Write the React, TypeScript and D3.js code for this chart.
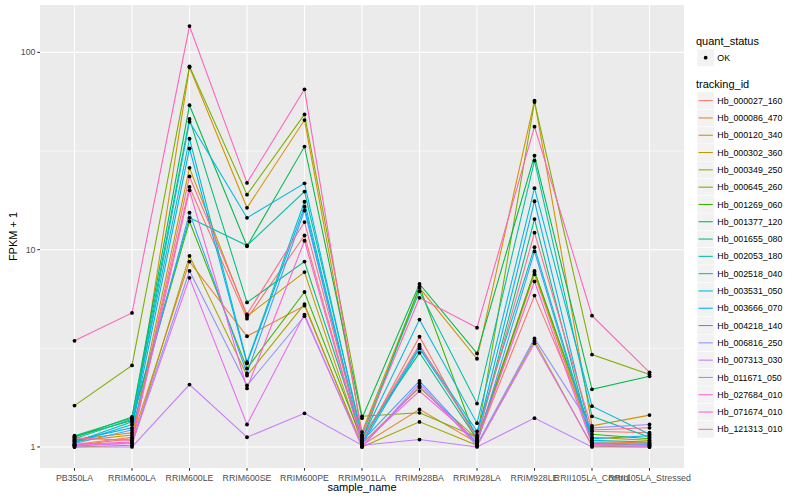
import React from "react";
import * as d3 from "d3";

const samples = [
  "PB350LA", "RRIM600LA", "RRIM600LE", "RRIM600SE", "RRIM600PE", "RRIM901LA",
  "RRIM928BA", "RRIM928LA", "RRIM928LE", "RRII105LA_Control", "RRII105LA_Stressed",
];

const trackingIds = [
  "Hb_000027_160", "Hb_000086_470", "Hb_000120_340", "Hb_000302_360", "Hb_000349_250",
  "Hb_000645_260", "Hb_001269_060", "Hb_001377_120", "Hb_001655_080", "Hb_002053_180",
  "Hb_002518_040", "Hb_003531_050", "Hb_003666_070", "Hb_004218_140", "Hb_006816_250",
  "Hb_007313_030", "Hb_011671_050", "Hb_027684_010", "Hb_071674_010", "Hb_121313_010",
];

const colors = [
  "#F8766D", "#EA8331", "#D89000", "#C09B00", "#A3A500", "#7CAE00", "#39B600", "#00BB4E",
  "#00BF7D", "#00C1A3", "#00BFC4", "#00BAE0", "#00B0F6", "#35A2FF", "#9590FF", "#C77CFF",
  "#E76BF3", "#FA62DB", "#FF62BC", "#FF6C91",
];

// FPKM + 1 per sample (columns follow `samples`)
const s000027 = [1.03, 1.12, 20.8, 4.47, 11.8, 1.05, 3.62, 1.08, 5.85, 1.2, 1.18];
const s000086 = [1.02, 1.1, 8.7, 3.64, 5.2, 1.02, 1.55, 1.05, 7.5, 1.06, 1.05];
const s000120 = [1.09, 1.18, 84, 16.3, 45.4, 1.19, 6.4, 2.8, 57, 1.28, 1.45];
const s000302 = [1.07, 1.15, 26, 4.6, 7.7, 1.04, 2.0, 1.1, 7.7, 1.12, 1.08];
const s000349 = [1.0, 1.02, 9.3, 2.3, 5.3, 1.0, 1.34, 1.02, 3.45, 1.01, 1.0];
const s000645 = [1.62, 2.59, 85, 19, 48.5, 1.43, 1.49, 1.12, 56, 2.94, 2.33];
const s001269 = [1.13, 1.36, 13.9, 2.5, 6.1, 1.08, 6.5, 1.06, 7.8, 1.16, 1.1];
const s001377 = [1.12, 1.42, 54, 10.4, 33.3, 1.4, 6.7, 2.98, 30, 1.96, 2.28];
const s001655 = [1.14, 1.4, 46, 5.4, 8.7, 1.12, 3.0, 1.09, 14.3, 1.04, 1.02];
const s002053 = [1.1, 1.38, 14.5, 10.5, 19.7, 1.15, 6.15, 1.66, 28.3, 1.43, 1.12];
const s002518 = [1.06, 1.34, 36.5, 2.69, 17.5, 1.06, 3.24, 1.2, 10.3, 1.08, 1.06];
const s003531 = [1.05, 1.3, 44.5, 14.5, 21.7, 1.1, 4.42, 1.32, 20.5, 1.61, 1.16];
const s003666 = [1.08, 1.25, 32.6, 2.65, 16.5, 1.03, 3.16, 1.15, 17.6, 1.1, 1.14];
const s004218 = [1.04, 1.22, 15.4, 2.36, 15.8, 1.07, 2.16, 1.04, 9.8, 1.05, 1.03];
const s006816 = [1.01, 1.05, 7.8, 2.05, 4.6, 1.01, 2.03, 1.03, 3.55, 1.25, 1.3];
const s007313 = [1.0, 1.0, 2.07, 1.12, 1.48, 1.02, 1.09, 1.0, 1.4, 1.0, 1.0];
const s011671 = [1.02, 1.04, 7.2, 1.3, 4.69, 1.0, 2.1, 1.01, 3.35, 1.02, 1.01];
const s027684 = [1.03, 1.06, 20, 1.98, 11.1, 1.04, 1.92, 1.07, 6.9, 1.03, 1.04];
const s071674 = [3.45, 4.78, 136, 21.8, 65, 1.14, 5.7, 4.02, 42, 4.63, 2.39];
const s121313 = [1.11, 1.08, 23.5, 4.7, 13.8, 1.09, 3.3, 1.11, 12.2, 1.22, 1.25];

const seriesValues = [
  s000027, s000086, s000120, s000302, s000349, s000645, s001269, s001377, s001655, s002053,
  s002518, s003531, s003666, s004218, s006816, s007313, s011671, s027684, s071674, s121313,
];

const yTicks = [1, 10, 100];
const yMinor = [Math.sqrt(10), Math.sqrt(1000)];

const W = 800;
const H = 500;
const P = { left: 40, right: 684, top: 5, bottom: 468 };
const FONT = "'Liberation Sans', Arial, Helvetica, sans-serif";

export default function App() {
  const all = seriesValues.flat();
  const lo = Math.log10(d3.min(all) as number);
  const hi = Math.log10(d3.max(all) as number);
  const ex = (hi - lo) * 0.05;
  const y = d3
    .scaleLog()
    .domain([Math.pow(10, lo - ex), Math.pow(10, hi + ex)])
    .range([P.bottom, P.top]);
  const x = d3.scalePoint<string>().domain(samples).range([P.left, P.right]).padding(0.6);

  const line = d3
    .line<number>()
    .x((_, i) => x(samples[i]) as number)
    .y((v) => y(v));

  const legX = 697;
  const keyS = 17.3;
  const firstKey = 92;

  return (
    <svg width={W} height={H} style={{ position: "absolute", left: 0, top: 0, fontFamily: FONT }}>
      <rect x={0} y={0} width={W} height={H} fill="#FFFFFF" />
      <rect x={P.left} y={P.top} width={P.right - P.left} height={P.bottom - P.top} fill="#EBEBEB" />
      {yMinor.map((t) => (
        <line key={"m" + t} x1={P.left} x2={P.right} y1={y(t)} y2={y(t)} stroke="#FFFFFF" strokeWidth={0.55} />
      ))}
      {yTicks.map((t) => (
        <line key={"g" + t} x1={P.left} x2={P.right} y1={y(t)} y2={y(t)} stroke="#FFFFFF" strokeWidth={1.07} />
      ))}
      {samples.map((s) => (
        <line key={"gx" + s} x1={x(s)} x2={x(s)} y1={P.top} y2={P.bottom} stroke="#FFFFFF" strokeWidth={1.07} />
      ))}
      {seriesValues.map((vals, i) => (
        <path key={"l" + i} d={line(vals) as string} fill="none" stroke={colors[i]} strokeWidth={1.07} />
      ))}
      {seriesValues.map((vals, i) =>
        vals.map((v, j) => (
          <circle key={"p" + i + "-" + j} cx={x(samples[j])} cy={y(v)} r={1.9} fill="#000000" />
        ))
      )}
      {/* y axis */}
      {yTicks.map((t) => (
        <g key={"yt" + t}>
          <line x1={P.left - 2.7} x2={P.left} y1={y(t)} y2={y(t)} stroke="#333333" strokeWidth={1.07} />
          <text x={P.left - 4.5} y={y(t)} dy="0.35em" textAnchor="end" fontSize={8.8} fill="#4D4D4D">
            {t}
          </text>
        </g>
      ))}
      {/* x axis */}
      {samples.map((s) => (
        <g key={"xt" + s}>
          <line x1={x(s)} x2={x(s)} y1={P.bottom} y2={P.bottom + 2.7} stroke="#333333" strokeWidth={1.07} />
          <text x={x(s)} y={P.bottom + 12.5} textAnchor="middle" fontSize={8.8} fill="#4D4D4D">
            {s}
          </text>
        </g>
      ))}
      <text x={(P.left + P.right) / 2} y={491} textAnchor="middle" fontSize={11} fill="#000000">
        sample_name
      </text>
      <text
        transform={`translate(17,${(P.top + P.bottom) / 2}) rotate(-90)`}
        textAnchor="middle"
        fontSize={11}
        fill="#000000"
      >
        FPKM + 1
      </text>
      {/* legend: quant_status */}
      <text x={legX - 1} y={44.5} fontSize={11} fill="#000000">
        quant_status
      </text>
      <rect x={legX} y={49} width={keyS} height={keyS} fill="#F2F2F2" stroke="#FFFFFF" strokeWidth={0.5} />
      <circle cx={legX + keyS / 2} cy={49 + keyS / 2} r={1.9} fill="#000000" />
      <text x={legX + keyS + 3} y={49 + keyS / 2} dy="0.35em" fontSize={8.8} fill="#000000">
        OK
      </text>
      {/* legend: tracking_id */}
      <text x={legX - 1} y={88} fontSize={11} fill="#000000">
        tracking_id
      </text>
      {trackingIds.map((id, i) => {
        const ky = firstKey + i * keyS;
        return (
          <g key={"lg" + id}>
            <rect x={legX} y={ky} width={keyS} height={keyS} fill="#F2F2F2" stroke="#FFFFFF" strokeWidth={0.5} />
            <line
              x1={legX + 1.5}
              x2={legX + keyS - 1.5}
              y1={ky + keyS / 2}
              y2={ky + keyS / 2}
              stroke={colors[i]}
              strokeWidth={1.07}
            />
            <text x={legX + keyS + 3} y={ky + keyS / 2} dy="0.35em" fontSize={8.8} fill="#000000">
              {id}
            </text>
          </g>
        );
      })}
    </svg>
  );
}
